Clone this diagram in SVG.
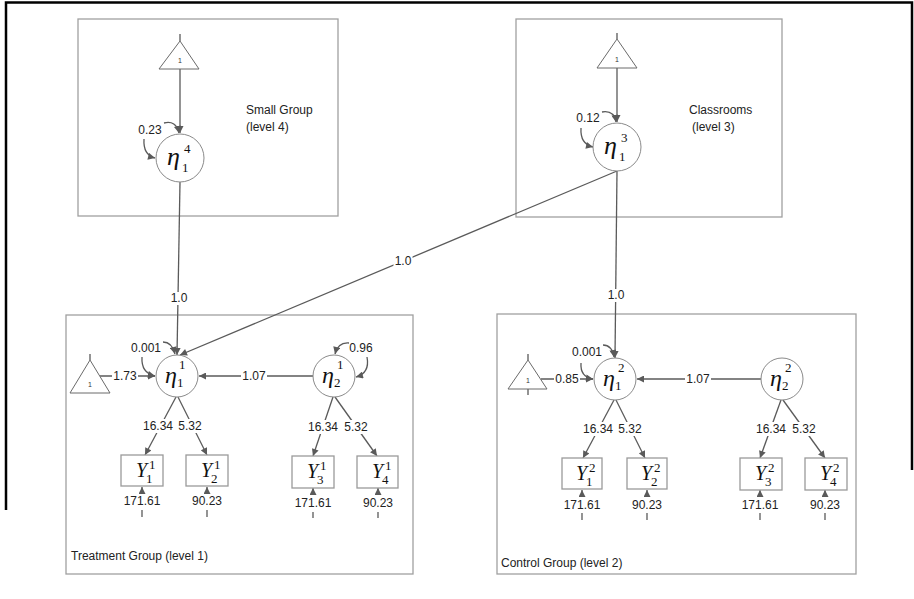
<svg xmlns="http://www.w3.org/2000/svg" width="914" height="599" viewBox="0 0 914 599">
<defs>
<marker id="ah" viewBox="0 0 10 10" refX="10" refY="5" markerWidth="8" markerHeight="7" orient="auto" markerUnits="userSpaceOnUse"><path d="M0,0 L10,5 L0,10 z" fill="#5a5a5a"/></marker>
</defs>
<style>
.frame{fill:none;stroke:#000;stroke-width:2.5}
.grp{fill:none;stroke:#a0a0a0;stroke-width:1.3}
.lat{fill:#fff;stroke:#8a8a8a;stroke-width:1}
.obs{fill:#fff;stroke:#9a9a9a;stroke-width:1.3}
.tri{fill:#fff;stroke:#6a6a6a;stroke-width:1}
.ln{fill:none;stroke:#5a5a5a;stroke-width:1.3}
.arr{fill:none;stroke:#5a5a5a;stroke-width:1.3;marker-end:url(#ah)}
.bg{fill:#fff;stroke:none}
.lbl{font-family:"Liberation Sans",Arial,sans-serif;font-size:12px;fill:#222}
.num{font-family:"Liberation Sans",Arial,sans-serif;font-size:12px;fill:#222;text-anchor:middle}
.one{font-family:"Liberation Sans",Arial,sans-serif;font-size:7px;fill:#333;text-anchor:middle}
.eta{font-family:"Liberation Serif","Times New Roman",serif;font-style:italic;font-size:24px;fill:#111}
.etab{font-family:"Liberation Serif","Times New Roman",serif;font-style:italic;font-size:26px;fill:#111}
.yv{font-family:"Liberation Serif","Times New Roman",serif;font-style:italic;font-size:20px;fill:#111}
.ix{font-family:"Liberation Serif","Times New Roman",serif;font-size:13px;fill:#111}
</style>
<g id="frame">
<path class="frame" d="M6,510 V2.5 H912 V470"/>
</g>
<g id="small-group">
<rect class="grp" x="78" y="19" width="260" height="197"/>
<text class="lbl" x="246" y="114">Small Group</text>
<text class="lbl" x="246" y="131">(level 4)</text>
</g>
<g id="classrooms">
<rect class="grp" x="516" y="19" width="266" height="198"/>
<text class="lbl" x="689" y="114">Classrooms</text>
<text class="lbl" x="692" y="131">(level 3)</text>
</g>
<g id="treatment-group">
<rect class="grp" x="66" y="315" width="347" height="259"/>
<text class="lbl" x="71" y="560">Treatment Group (level 1)</text>
</g>
<g id="control-group">
<rect class="grp" x="497" y="314" width="359" height="260"/>
<text class="lbl" x="501" y="567">Control Group (level 2)</text>
</g>
<g id="connectors">
<path class="ln" d="M180,34 V41"/>
<path class="arr" d="M180,69 V133"/>
<path class="arr" d="M164,123 Q176,120 179,133"/>
<path class="arr" d="M144,139 Q143,155 155,158"/>
<path class="ln" d="M617,33 V39"/>
<path class="arr" d="M617,68 V122"/>
<path class="arr" d="M602,112 Q614,110 616,122"/>
<path class="arr" d="M581,128 Q580,144 593,147"/>
<path class="arr" d="M180,182 L177,355"/>
<path class="arr" d="M617,171 L615,358"/>
<path class="arr" d="M617,171 L180,355"/>
<path class="ln" d="M90,354 V360"/>
<path class="arr" d="M100,376 L155,376"/>
<path class="arr" d="M163,342 Q172,342 175,354"/>
<path class="arr" d="M142,357 Q141,373 155,376"/>
<path class="arr" d="M313,376 L199,376"/>
<path class="arr" d="M349,343 Q338,342 335,354"/>
<path class="arr" d="M367,357 Q370,373 356,377"/>
<path class="arr" d="M176,397 L145,455"/>
<path class="arr" d="M178,397 L207,455"/>
<path class="arr" d="M333,397 L313,456"/>
<path class="arr" d="M335,397 L377,456"/>
<path class="arr" d="M142,517 V487"/>
<path class="arr" d="M207,517 V487"/>
<path class="arr" d="M313,518 V488"/>
<path class="arr" d="M378,518 V488"/>
<path class="ln" d="M528,354 V360 M528,389 V395"/>
<path class="arr" d="M541,379 L593,379"/>
<path class="arr" d="M603,345 Q612,345 614,357"/>
<path class="arr" d="M581,363 Q580,377 593,379"/>
<path class="arr" d="M761,379 L637,379"/>
<path class="arr" d="M614,400 L583,458"/>
<path class="arr" d="M616,400 L645,458"/>
<path class="arr" d="M781,400 L760,458"/>
<path class="arr" d="M783,400 L825,458"/>
<path class="arr" d="M582,520 V490"/>
<path class="arr" d="M647,520 V490"/>
<path class="arr" d="M760,520 V490"/>
<path class="arr" d="M825,520 V490"/>
<rect class="bg" x="169.5" y="292" width="19" height="13"/>
<rect class="bg" x="606.5" y="289" width="19" height="13"/>
<rect class="bg" x="393.5" y="255" width="19" height="13"/>
<rect class="bg" x="112" y="370" width="26" height="13"/>
<rect class="bg" x="241" y="370" width="26" height="13"/>
<rect class="bg" x="554" y="373" width="26" height="13"/>
<rect class="bg" x="685" y="373" width="26" height="13"/>
<rect class="bg" x="142" y="419" width="32" height="14"/>
<rect class="bg" x="177" y="419" width="26" height="14"/>
<rect class="bg" x="307" y="420" width="32" height="14"/>
<rect class="bg" x="343" y="420" width="26" height="14"/>
<rect class="bg" x="582" y="422" width="32" height="14"/>
<rect class="bg" x="617" y="422" width="26" height="14"/>
<rect class="bg" x="755" y="422" width="32" height="14"/>
<rect class="bg" x="791" y="422" width="26" height="14"/>
<rect class="bg" x="123" y="494" width="38" height="16"/>
<rect class="bg" x="191" y="494" width="32" height="16"/>
<rect class="bg" x="294" y="495" width="38" height="17"/>
<rect class="bg" x="362" y="495" width="32" height="17"/>
<rect class="bg" x="563" y="497" width="38" height="16"/>
<rect class="bg" x="631" y="497" width="32" height="16"/>
<rect class="bg" x="741" y="497" width="38" height="16"/>
<rect class="bg" x="809" y="497" width="32" height="16"/>
<text class="num" x="150" y="134">0.23</text>
<text class="num" x="588" y="122">0.12</text>
<text class="num" x="179" y="302">1.0</text>
<text class="num" x="616" y="299">1.0</text>
<text class="num" x="403" y="265">1.0</text>
<text class="num" x="146" y="352">0.001</text>
<text class="num" x="125" y="380">1.73</text>
<text class="num" x="254" y="380">1.07</text>
<text class="num" x="361" y="352">0.96</text>
<text class="num" x="158" y="430">16.34</text>
<text class="num" x="190" y="430">5.32</text>
<text class="num" x="323" y="431">16.34</text>
<text class="num" x="356" y="431">5.32</text>
<text class="num" x="142" y="505">171.61</text>
<text class="num" x="207" y="505">90.23</text>
<text class="num" x="313" y="507">171.61</text>
<text class="num" x="378" y="507">90.23</text>
<text class="num" x="587" y="356">0.001</text>
<text class="num" x="567" y="383">0.85</text>
<text class="num" x="698" y="383">1.07</text>
<text class="num" x="598" y="433">16.34</text>
<text class="num" x="630" y="433">5.32</text>
<text class="num" x="771" y="433">16.34</text>
<text class="num" x="804" y="433">5.32</text>
<text class="num" x="582" y="509">171.61</text>
<text class="num" x="647" y="509">90.23</text>
<text class="num" x="760" y="509">171.61</text>
<text class="num" x="825" y="509">90.23</text>
</g>
<g id="const-4">
<path class="tri" d="M180,41 L159,69 L199,69 Z"/>
<text class="one" x="180" y="63">1</text>
</g>
<g id="const-3">
<path class="tri" d="M617,39 L597,68 L637,68 Z"/>
<text class="one" x="617" y="62">1</text>
</g>
<g id="const-1">
<path class="tri" d="M90,360 L70,393 L110,393 Z"/>
<text class="one" x="90" y="387">1</text>
</g>
<g id="const-2">
<path class="tri" d="M528,360 L508,389 L547,389 Z"/>
<text class="one" x="528" y="383">1</text>
</g>
<g id="eta4-1">
<circle class="lat" cx="180" cy="158" r="24"/>
<text class="etab" x="167" y="165">η</text>
<text class="ix" x="184" y="153">4</text>
<text class="ix" x="182" y="172">1</text>
</g>
<g id="eta3-1">
<circle class="lat" cx="617" cy="147" r="24"/>
<text class="etab" x="604" y="154">η</text>
<text class="ix" x="621" y="142">3</text>
<text class="ix" x="619" y="161">1</text>
</g>
<g id="eta1-1">
<circle class="lat" cx="177" cy="376" r="21"/>
<text class="eta" x="165" y="383">η</text>
<text class="ix" x="179" y="369">1</text>
<text class="ix" x="177" y="387">1</text>
</g>
<g id="eta1-2">
<circle class="lat" cx="334" cy="376" r="21"/>
<text class="eta" x="322" y="383">η</text>
<text class="ix" x="337" y="369">1</text>
<text class="ix" x="334" y="387">2</text>
</g>
<g id="eta2-1">
<circle class="lat" cx="615" cy="379" r="21"/>
<text class="eta" x="603" y="386">η</text>
<text class="ix" x="618" y="372">2</text>
<text class="ix" x="615" y="390">1</text>
</g>
<g id="eta2-2">
<circle class="lat" cx="782" cy="379" r="21"/>
<text class="eta" x="770" y="386">η</text>
<text class="ix" x="785" y="372">2</text>
<text class="ix" x="782" y="390">2</text>
</g>
<g id="y1-1"><rect class="obs" x="121" y="455" width="42" height="31"/><text class="yv" x="136" y="477">Y</text><text class="ix" x="149" y="469">1</text><text class="ix" x="146" y="483">1</text></g>
<g id="y1-2"><rect class="obs" x="186" y="455" width="42" height="31"/><text class="yv" x="201" y="477">Y</text><text class="ix" x="214" y="469">1</text><text class="ix" x="211" y="483">2</text></g>
<g id="y1-3"><rect class="obs" x="292" y="456" width="42" height="32"/><text class="yv" x="307" y="478">Y</text><text class="ix" x="320" y="470">1</text><text class="ix" x="317" y="484">3</text></g>
<g id="y1-4"><rect class="obs" x="357" y="456" width="41" height="32"/><text class="yv" x="372" y="478">Y</text><text class="ix" x="385" y="470">1</text><text class="ix" x="382" y="484">4</text></g>
<g id="y2-1"><rect class="obs" x="562" y="458" width="40" height="31"/><text class="yv" x="576" y="480">Y</text><text class="ix" x="589" y="472">2</text><text class="ix" x="586" y="486">1</text></g>
<g id="y2-2"><rect class="obs" x="627" y="458" width="40" height="31"/><text class="yv" x="641" y="480">Y</text><text class="ix" x="654" y="472">2</text><text class="ix" x="651" y="486">2</text></g>
<g id="y2-3"><rect class="obs" x="740" y="458" width="42" height="32"/><text class="yv" x="755" y="480">Y</text><text class="ix" x="768" y="472">2</text><text class="ix" x="765" y="486">3</text></g>
<g id="y2-4"><rect class="obs" x="805" y="458" width="42" height="32"/><text class="yv" x="820" y="480">Y</text><text class="ix" x="833" y="472">2</text><text class="ix" x="830" y="486">4</text></g>
</svg>
